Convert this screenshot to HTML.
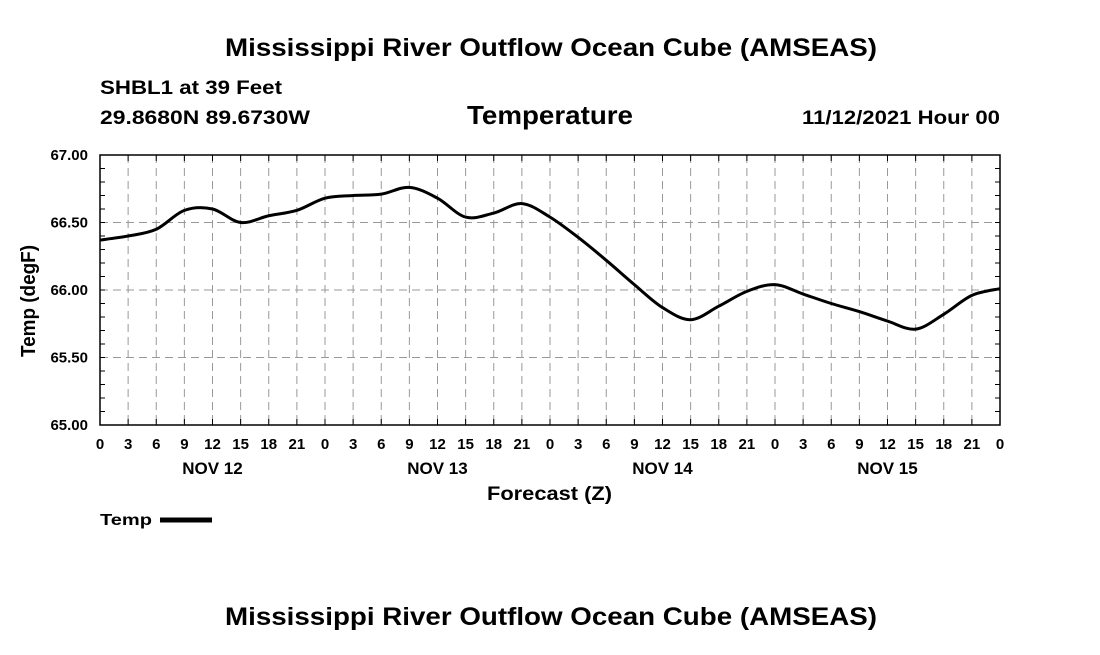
<!DOCTYPE html>
<html><head><meta charset="utf-8"><style>
body{margin:0;background:#fff;width:1100px;height:650px;overflow:hidden;font-family:"Liberation Sans",Arial,sans-serif}
</style></head><body>
<svg width="1100" height="650" xmlns="http://www.w3.org/2000/svg" font-family="Liberation Sans, Arial, sans-serif" font-weight="bold">
<text x="225" y="56" font-size="25" textLength="652" lengthAdjust="spacingAndGlyphs">Mississippi River Outflow Ocean Cube (AMSEAS)</text>
<text x="100" y="94" font-size="19" textLength="182" lengthAdjust="spacingAndGlyphs">SHBL1 at 39 Feet</text>
<text x="100" y="124" font-size="19" textLength="210" lengthAdjust="spacingAndGlyphs">29.8680N  89.6730W</text>
<text x="467" y="124" font-size="26" textLength="166" lengthAdjust="spacingAndGlyphs">Temperature</text>
<text x="802" y="124" font-size="19" textLength="198" lengthAdjust="spacingAndGlyphs">11/12/2021 Hour 00</text>
<g id="grid"></g>
<g id="axes"></g>
<path id="line" fill="none" stroke="#000" stroke-width="3"/>
<rect x="100" y="155" width="900" height="270" fill="none" stroke="#000" stroke-width="1.5"/>
<text transform="translate(35,301) rotate(-90)" font-size="20" text-anchor="middle" textLength="112" lengthAdjust="spacingAndGlyphs">Temp (degF)</text>
<text x="487" y="500" font-size="19" textLength="125" lengthAdjust="spacingAndGlyphs">Forecast (Z)</text>
<g><text x="100" y="525" font-size="16" textLength="52" lengthAdjust="spacingAndGlyphs">Temp</text><line x1="160" y1="520" x2="212" y2="520" stroke="#000" stroke-width="5"/></g>
<text x="225" y="625" font-size="25" textLength="652" lengthAdjust="spacingAndGlyphs">Mississippi River Outflow Ocean Cube (AMSEAS)</text>
</svg>
<script>
const hours=[0,3,6,9,12,15,18,21,24,27,30,33,36,39,42,45,48,51,54,57,60,63,66,69,72,75,78,81,84,87,90,93,96];
const temps=[66.37,66.40,66.45,66.59,66.60,66.50,66.55,66.59,66.68,66.70,66.71,66.76,66.68,66.54,66.57,66.64,66.54,66.39,66.22,66.04,65.87,65.78,65.88,65.99,66.04,65.97,65.90,65.84,65.77,65.71,65.82,65.96,66.01];
const yTicks=[65.00,65.50,66.00,66.50,67.00];
const xTickLabels=["0","3","6","9","12","15","18","21"];
const dayLabels=["NOV 12","NOV 13","NOV 14","NOV 15"];
const X=h=>100+h*900/96, Y=v=>425-(v-65)*135;
const NS="http://www.w3.org/2000/svg";
const grid=document.getElementById('grid'), axes=document.getElementById('axes');
function mk(p,tag,a){const e=document.createElementNS(NS,tag);for(const k in a)e.setAttribute(k,a[k]);p.appendChild(e);return e;}
for(let h=0;h<=96;h+=3){
 const g=mk(grid,'line',{x1:X(h),x2:X(h),y1:155,y2:425,stroke:'#999','stroke-dasharray':'8,5'});
 
 
 mk(axes,'line',{x1:X(h),x2:X(h),y1:425,y2:419,stroke:'#000'});
 mk(axes,'line',{x1:X(h),x2:X(h),y1:155,y2:161,stroke:'#000'});
 const t=mk(axes,'text',{x:X(h),y:449,'font-size':15,'text-anchor':'middle'});
 t.textContent=(h%24===0)?"0":xTickLabels[(h%24)/3];
 
 
}
dayLabels.forEach((d,i)=>{const t=mk(axes,'text',{x:X(i*24+12),y:474,'font-size':17,'text-anchor':'middle'});t.textContent=d;
 
 });
for(let v=65;v<=67.001;v+=0.1){mk(axes,'line',{x1:100,x2:105,y1:Y(v),y2:Y(v),stroke:'#000'});mk(axes,'line',{x1:995,x2:1000,y1:Y(v),y2:Y(v),stroke:'#000'});}
yTicks.forEach(v=>{
 const g=mk(grid,'line',{x1:100,x2:1000,y1:Y(v),y2:Y(v),stroke:'#999','stroke-dasharray':'8,5'});
 
 
 const t=mk(axes,'text',{x:88,y:Y(v)+5,'font-size':15,'text-anchor':'end'});t.textContent=v.toFixed(2);
 
 
});
const P=hours.map((h,i)=>[X(h),Y(temps[i])]);
let d=`M${P[0][0]},${P[0][1]}`;
for(let i=0;i<P.length-1;i++){const p0=P[Math.max(0,i-1)],p1=P[i],p2=P[i+1],p3=P[Math.min(P.length-1,i+2)];
 d+=` C${p1[0]+(p2[0]-p0[0])/6},${p1[1]+(p2[1]-p0[1])/6} ${p2[0]-(p3[0]-p1[0])/6},${p2[1]-(p3[1]-p1[1])/6} ${p2[0]},${p2[1]}`;}
document.getElementById('line').setAttribute('d',d);
</script>
</body></html>
